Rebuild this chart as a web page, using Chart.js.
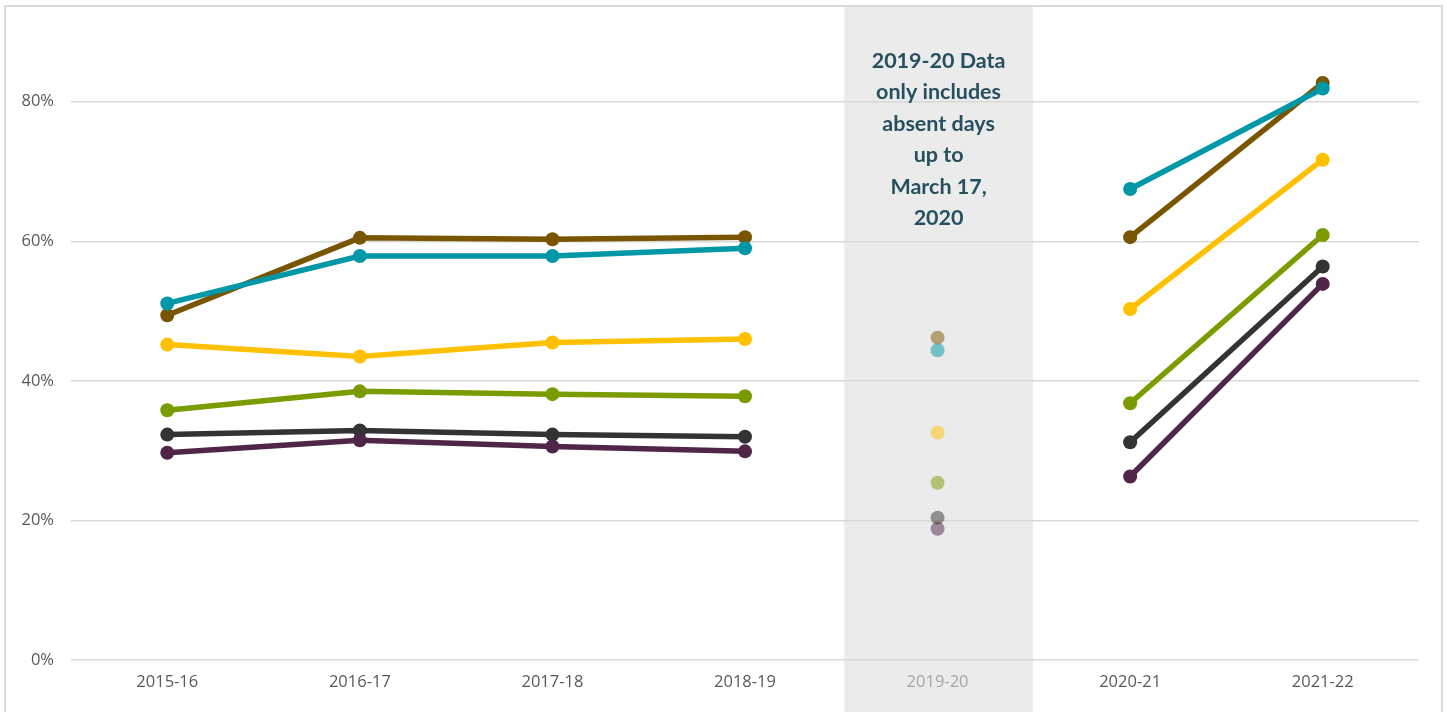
<!DOCTYPE html>
<html>
<head>
<meta charset="utf-8">
<script src="https://cdn.jsdelivr.net/npm/chart.js"></script>
<style>
  html, body { margin: 0; padding: 0; background: #fff; }
  #wrap { width: 1447px; height: 712px; }
</style>
</head>
<body>
<div id="wrap"><canvas id="chartLine" width="1447" height="712"></canvas></div>
<script>
const years = ["2015-16", "2016-17", "2017-18", "2018-19", "2019-20", "2020-21", "2021-22"];
const partialYear = 4; // 2019-20, only up to March 17, 2020
const noteLines = ["2019-20 Data", "only includes", "absent days", "up to", "March 17,", "2020"];

const purpleVals = [29.7, 31.5, 30.6, 29.9, 18.8, 26.3, 53.9];
const grayVals   = [32.3, 32.9, 32.3, 32.0, 20.4, 31.2, 56.4];
const greenVals  = [35.8, 38.5, 38.1, 37.8, 25.4, 36.8, 60.9];
const yellowVals = [45.2, 43.5, 45.5, 46.0, 32.6, 50.3, 71.7];
const tealVals   = [51.1, 57.9, 57.9, 59.0, 44.4, 67.5, 81.9];
const brownVals  = [49.4, 60.5, 60.3, 60.6, 46.2, 60.6, 82.7];

function series(values, rgb) {
  const solid = "rgb(" + rgb + ")";
  const faded = "rgba(" + rgb + ",0.5)";
  return {
    data: values,
    borderColor: solid,
    borderWidth: 5.5,
    pointRadius: 7,
    pointHoverRadius: 7,
    pointBorderWidth: 0,
    pointBackgroundColor: values.map((v, i) => i == partialYear ? faded : solid),
    segment: {
      borderColor: ctx => (ctx.p0DataIndex == partialYear || ctx.p1DataIndex == partialYear) ? "rgba(0,0,0,0)" : undefined
    },
    tension: 0
  };
}

// grey band behind the partial year, plus the outer frame
const bandPlugin = {
  id: "band",
  beforeDraw(chart) {
    const c = chart.ctx;
    const x = chart.scales.x;
    const half = (x.getPixelForValue(1) - x.getPixelForValue(0)) * 0.49;
    const cx = x.getPixelForValue(partialYear) + 1;
    c.save();
    c.fillStyle = "#ebebeb";
    c.fillRect(cx - half, 6, half * 2, chart.height);
    c.strokeStyle = "#d9d9d9";
    c.lineWidth = 2;
    c.strokeRect(5, 6, chart.width - 10, chart.height + 20);
    c.restore();
  },
  afterDraw(chart) {
    const c = chart.ctx;
    const cx = chart.scales.x.getPixelForValue(partialYear) + 1;
    c.save();
    c.fillStyle = "#26505f";
    c.font = "bold 21.5px Lato";
    c.textAlign = "center";
    c.textBaseline = "middle";
    noteLines.forEach((t, i) => c.fillText(t, cx, 61 + i * 31.5));
    c.restore();
  }
};

const chartLine = new Chart(document.getElementById("chartLine"), {
  type: "line",
  data: {
    labels: years,
    datasets: [
      series(purpleVals, "80,38,72"),
      series(grayVals, "51,51,51"),
      series(greenVals, "122,156,1"),
      series(yellowVals, "255,192,0"),
      series(tealVals, "0,151,167"),
      series(brownVals, "122,85,0")
    ]
  },
  options: {
    responsive: false,
    animation: false,
    layout: { padding: { top: 32, right: 28, left: 0, bottom: 0 } },
    plugins: { legend: { display: false }, tooltip: { enabled: false } },
    scales: {
      x: {
        offset: true,
        grid: { display: false, drawTicks: false },
        border: { display: false },
        ticks: {
          padding: 12,
          font: { family: "Open Sans", size: 16.5 },
          color: ctx => ctx.index == partialYear ? "#a6a6a6" : "#595959"
        },
        afterFit: s => { s.height = 52; }
      },
      y: {
        min: 0,
        max: 90,
        grid: { color: "#d9d9d9", lineWidth: 1.5, drawTicks: false },
        border: { display: false },
        ticks: {
          stepSize: 20,
          includeBounds: false,
          padding: 17,
          font: { family: "Open Sans", size: 16.5 },
          color: "#595959",
          callback: v => v + "%"
        },
        afterFit: s => { s.width = 71; }
      }
    }
  },
  plugins: [bandPlugin]
});
</script>
</body>
</html>
